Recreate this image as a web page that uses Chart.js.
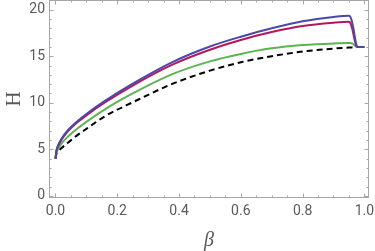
<!DOCTYPE html>
<html>
<head>
<meta charset="utf-8">
<script src="https://cdn.jsdelivr.net/npm/chart.js@4"></script>
<style>
html,body{margin:0;padding:0;background:#fff;}
#c{display:block;}
</style>
</head>
<body>
<canvas id="c" width="375" height="251"></canvas>
<script>
const betas    = [0, 0.003, 0.01, 0.02, 0.04, 0.07, 0.1, 0.16, 0.25, 0.38, 0.5, 0.6, 0.7, 0.8, 0.9, 0.95, 0.955, 0.96, 0.965, 0.97, 0.975, 0.98, 1.0];
const blueH    = [4.0, 4.85, 5.55, 6.15, 7.05, 8.0, 8.8, 10.2, 12.05, 14.4, 16.05, 17.1, 18.0, 18.75, 19.22, 19.35, 19.2, 18.7, 17.9, 16.9, 16.15, 16.0, 16.0];
const magentaH = [4.0, 4.8, 5.45, 6.05, 6.93, 7.87, 8.65, 10.03, 11.85, 14.12, 15.7, 16.75, 17.6, 18.25, 18.6, 18.7, 18.55, 18.05, 17.3, 16.55, 16.05, 16.0, 16.0];
const greenH   = [4.0, 4.6, 5.15, 5.65, 6.35, 7.2, 7.95, 9.3, 11.0, 13.1, 14.45, 15.25, 15.85, 16.2, 16.38, 16.42, 16.42, 16.38, 16.28, 16.13, 16.02, 16.0, 16.0];
const blackH   = [4.0, 4.5, 4.85, 5.15, 5.7, 6.5, 7.2, 8.55, 10.05, 12.05, 13.45, 14.35, 15.0, 15.5, 15.82, 15.93, 15.94, 15.95, 15.96, 15.98, 16.0, 16.0, 16.0];
const xTicks = [0, 0.2, 0.4, 0.6, 0.8, 1.0];
const yTicks = [0, 5, 10, 15, 20];

function pts(ys){ return betas.map((b,i)=>({x:b, y:ys[i]})); }

const frameColor = '#a6a6a6';
const labelColor = '#5a5a5a';

const framePlugin = {
  id: 'frame',
  afterDatasetsDraw(chart){
    const {ctx, chartArea:a, scales:{x, y}} = chart;
    ctx.save();
    ctx.strokeStyle = frameColor;
    ctx.lineWidth = 1;
    const L = Math.round(a.left)+0.5, R = Math.round(a.right)-0.5, T = Math.round(a.top)+0.5, B = Math.round(a.bottom)-0.5;
    ctx.strokeRect(L, T, R-L, B-T);
    ctx.beginPath();
    for (let i=0;i<=20;i++){
      const v = i*0.05;
      const px = Math.round(x.getPixelForValue(v))+0.5;
      const len = (i%4===0)?4:2;
      ctx.moveTo(px,B); ctx.lineTo(px,B-len);
      ctx.moveTo(px,T); ctx.lineTo(px,T+len);
    }
    for (let v=0; v<=21; v++){
      const py = Math.round(y.getPixelForValue(v))+0.5;
      const len = (v%5===0)?4:2;
      ctx.moveTo(L,py); ctx.lineTo(L+len,py);
      ctx.moveTo(R,py); ctx.lineTo(R-len,py);
    }
    ctx.stroke();
    ctx.restore();
  }
};

const common = {pointRadius:0, cubicInterpolationMode:'monotone', fill:false, borderWidth:2};

new Chart(document.getElementById('c'), {
  type: 'line',
  data: {
    datasets: [
      Object.assign({data: pts(blueH), borderColor:'#4a48a8'}, common),
      Object.assign({data: pts(magentaH), borderColor:'#b5175e'}, common),
      Object.assign({data: pts(greenH), borderColor:'#5cb452'}, common),
      Object.assign({data: pts(blackH), borderColor:'#000000', borderDash:[6,4]}, common)
    ]
  },
  options: {
    responsive: false,
    devicePixelRatio: 1,
    animation: false,
    events: [],
    layout: {padding: {left:0, right:6, top:0, bottom:0}},
    plugins: {legend:{display:false}, tooltip:{enabled:false}},
    scales: {
      x: {
        type:'linear', min:-0.021, max:1.015,
        grid:{display:false, drawTicks:false}, border:{display:false},
        afterBuildTicks(s){ s.ticks = xTicks.map(v=>({value:v})); },
        afterFit(s){ s.height = 53; s.paddingLeft = 0; s.paddingRight = 0; },
        ticks:{ color:labelColor, font:{family:'Roboto', size:14}, padding:5, maxRotation:0,
          callback:(v)=>Number(v).toFixed(1) },
        title:{display:true, text:'β', color:labelColor, font:{family:'Liberation Serif', size:20, style:'italic', lineHeight:1}, padding:{top:0,bottom:0}}
      },
      y: {
        type:'linear', min:-0.23, max:21.04,
        grid:{display:false, drawTicks:false}, border:{display:false},
        afterBuildTicks(s){ s.ticks = yTicks.map(v=>({value:v})); },
        afterFit(s){ s.width = 49; s.paddingTop = 0; s.paddingBottom = 0; },
        ticks:{ color:labelColor, font:{family:'Roboto', size:14}, padding:4 },
        title:{display:true, text:'H', color:labelColor, font:{family:'Liberation Serif', size:21, lineHeight:1}, padding:{top:4,bottom:0}}
      }
    }
  },
  plugins:[framePlugin]
});
</script>
</body>
</html>
